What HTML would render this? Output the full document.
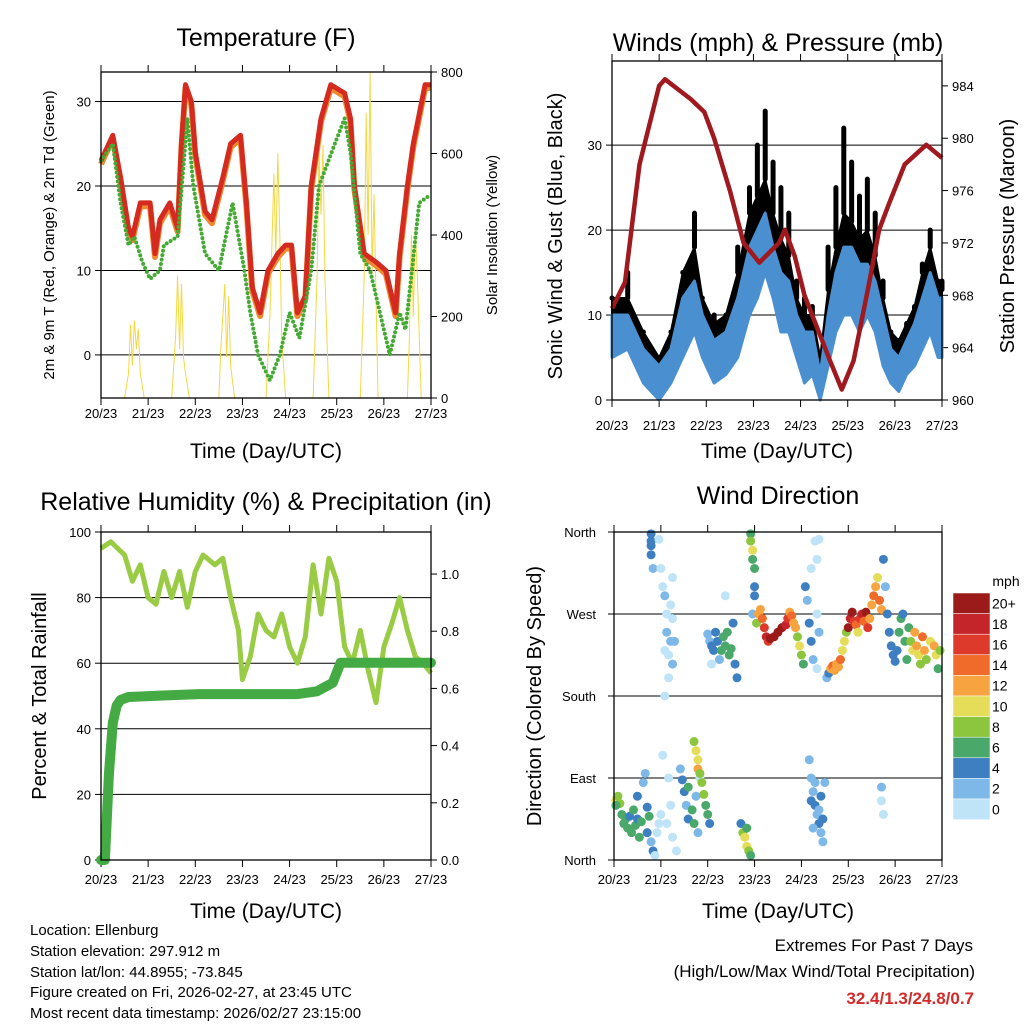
<!DOCTYPE html>
<html><head><meta charset="utf-8"><style>
html,body{margin:0;padding:0;background:#fff}
svg text{font-family:"Liberation Sans",sans-serif;fill:#000}
</style></head><body>
<svg id="c" width="1024" height="1024" viewBox="0 0 1024 1024" xmlns="http://www.w3.org/2000/svg">
<rect width="1024" height="1024" fill="#fff"/>
<text x="266" y="46" font-size="25" text-anchor="middle">Temperature (F)</text>
<text x="778" y="51" font-size="25" text-anchor="middle">Winds (mph) &amp; Pressure (mb)</text>
<text x="266" y="510" font-size="25" text-anchor="middle">Relative Humidity (%) &amp; Precipitation (in)</text>
<text x="778" y="504" font-size="25" text-anchor="middle">Wind Direction</text>
<text transform="translate(54,235) rotate(-90)" font-size="15" text-anchor="middle">2m &amp; 9m T (Red, Orange) &amp; 2m Td (Green)</text>
<text transform="translate(497,235) rotate(-90)" font-size="15" text-anchor="middle">Solar Insolation (Yellow)</text>
<text transform="translate(562,236) rotate(-90)" font-size="20" text-anchor="middle">Sonic Wind &amp; Gust (Blue, Black)</text>
<text transform="translate(1014,236) rotate(-90)" font-size="20" text-anchor="middle">Station Pressure (Maroon)</text>
<text transform="translate(46,696) rotate(-90)" font-size="20" text-anchor="middle">Percent &amp; Total Rainfall</text>
<text transform="translate(541,696) rotate(-90)" font-size="20" text-anchor="middle">Direction (Colored By Speed)</text>
<text x="266" y="458" font-size="21" text-anchor="middle">Time (Day/UTC)</text>
<text x="777" y="458" font-size="21" text-anchor="middle">Time (Day/UTC)</text>
<text x="266" y="918" font-size="21" text-anchor="middle">Time (Day/UTC)</text>
<text x="778" y="918" font-size="21" text-anchor="middle">Time (Day/UTC)</text>
<g font-size="15">
<text x="30" y="935">Location: Ellenburg</text>
<text x="30" y="956">Station elevation: 297.912 m</text>
<text x="30" y="977">Station lat/lon: 44.8955; -73.845</text>
<text x="30" y="997">Figure created on Fri, 2026-02-27, at 23:45 UTC</text>
<text x="30" y="1018">Most recent data timestamp: 2026/02/27 23:15:00</text>
</g>
<g text-anchor="end">
<text x="973" y="951" font-size="17">Extremes For Past 7 Days</text>
<text x="975" y="977" font-size="17">(High/Low/Max Wind/Total Precipitation)</text>
<text x="974" y="1004" font-size="17" font-weight="bold" style="fill:#d42a2a">32.4/1.3/24.8/0.7</text>
</g>
<g id="plots"></g>
</svg>
<script>
const dayLabels=["20/23","21/23","22/23","23/23","24/23","25/23","26/23","27/23"];
const tempT=[0,6,10,14,16,20,25,27.5,30,35,39,41,43,46,48,53,56.5,62,66,71,74,77,81,85,90,94,97,100,104,107,112,117,124,127,129,134,140,145,150,152,156,159,165,168];
const tempV=[23,26,21,15,14,18,18,12,16,18,15,25,32,30,24,17,16,21,25,26,18,8,5,10,12,13,13,5,7,20,28,32,31,28,20,12,11,10,5,12,20,25,32,32];
const dewT=[0,6,10,14,17,21,25,30,32,39,44,47,53,60,67,73,76,80,86,91,96,101,107,111,119,124,127,132,137,147,152,155,162,168];
const dewV=[23,25,18,13,14,11,9,10,13,14,28,20,12,10,18,10,5,0,-3,0,5,2,10,20,25,28,24,12,10,0,5,3,18,19];
const solarT=[0,12,14,15,16,17,18,19,20,21,22,36,38,39,40,41,42,43,45,60,61,63,64,65,66,68,84,86,88,89,90,91,92,94,108,110,111,112,113,114,116,132,134,135,136,137,138,139,141,156,157,158,159,160,161,163,168];
const solarV=[0,0,60,180,80,190,120,170,60,30,0,0,150,300,120,280,100,60,0,0,120,280,100,250,80,0,0,200,550,350,600,400,150,0,0,300,600,450,620,300,0,0,300,700,400,800,300,500,0,0,150,400,200,420,300,0,0];
const presT=[0,6.6,14,24,27,40,47,52,60,67,75,85,88,93,98,111,117,123,131,136,141,149,160,168];
const presV=[967,969,978,984,984.5,983,982,980,976,972,970.5,972,973,971,968,963,960.8,963,969,973,975,978,979.5,978.5];
const windT=[0,8,16,24,30,36,42,46,52,58,64,70,74,78,82,86,90,94,98,102,106,110,114,118,122,126,130,134,138,142,146,150,154,158,162,166,168];
const windLow=[5,6,2,0,2,5,8,5,2,3,5,10,12,15,12,8,8,5,2,3,0,4,8,10,10,8,10,8,4,2,1,3,4,6,8,5,5];
const windHigh=[10,10,6,4,6,12,14,10,7,8,12,18,20,22,18,15,14,10,8,8,3,10,15,18,18,16,16,14,10,6,5,7,9,12,15,12,12];
const gustTyp=[12,12,8,5,8,15,18,12,9,10,15,22,24,26,22,19,17,12,10,10,5,13,18,22,21,19,20,17,12,8,7,9,11,15,18,14,14];
const gustV=[12,15,8,5,8,15,22,12,10,10,18,25,30,34,28,25,22,14,12,11,5,18,25,32,28,24,26,22,14,8,7,8,10,16,20,14,13];
const rhT=[0,5,12,16,20,24,28,32,36,40,44,48,52,58,62,66,70,72,76,80,84,88,92,96,100,104,108,112,116,120,124,128,132,136,140,144,148,152,156,160,164,168];
const rhV=[95,97,93,85,90,80,78,88,80,88,77,88,93,90,92,80,70,55,62,75,70,68,75,65,60,68,90,75,92,85,65,60,70,58,48,65,72,80,70,62,60,57];
const precT=[0,2,4,6,8,10,14,30,50,100,110,118,122,168];
const precV=[0,0,0.3,0.48,0.54,0.56,0.57,0.575,0.58,0.58,0.59,0.62,0.69,0.69];
const dirPts=[[1,66,10],[2,70,9],[3,62,9],[1,60,7],[4,50,6],[5,40,6],[6,45,7],[7,35,6],[8,48,5],[9,30,6],[10,55,6],[11,38,6],[12,45,4],[12,70,4],[13,25,6],[14,42,7],[15,85,3],[16,95,3],[17,58,4],[17,30,4],[18,48,7],[19,20,3],[20,10,4],[21,5,1],[22,30,1],[23,40,1],[24,50,1],
[19,358,4],[19,350,4],[19,345,4],[19,335,4],[20,320,3],
[23,352,1],[24,320,0],[25,300,1],[26,290,2],[27,270,1],[27,250,2],[26,230,0],[28,225,1],[28,200,1],[29,240,2],[29,280,1],[30,310,1],[30,265,0],[31,240,2],[30,215,2],[26,180,0],[25,115,0],[28,90,1],[29,60,0],[27,40,1],[30,25,0],[32,10,0],
[34,100,2],[35,88,4],[36,75,4],[37,60,3],[38,45,4],[38,80,6],[40,55,6],[41,40,6],[42,70,2],[43,30,3],[44,90,1],
[41,130,8],[42,120,10],[43,110,10],[43,100,12],[44,95,9],[45,85,8],[46,72,8],[47,60,7],[48,50,6],[49,40,4],
[48,248,3],[49,240,2],[50,235,4],[51,230,4],[52,250,4],[53,240,5],[54,220,2],[55,230,6],[56,245,6],[57,235,6],[58,250,6],[59,225,6],[60,232,6],[61,260,4],[62,215,4],[63,200,4],[50,215,1],[57,290,1],
[70,358,6],[70,350,8],[71,340,10],[71,330,7],[72,320,6],[72,300,4],[72,290,4],[71,270,3],
[65,40,4],[66,30,9],[67,25,10],[68,15,10],[69,10,8],[70,5,6],[68,35,7],
[73,260,8],[74,270,12],[75,275,12],[76,265,14],[77,255,16],[78,245,18],[79,240,16],[80,243,20],[82,245,20],[84,250,20],[86,255,20],[88,258,18],[89,265,16],[90,272,12],[91,268,14],[92,260,12],[93,255,12],[94,245,8],[95,235,10],[96,225,8],[97,215,7],
[98,300,4],[99,285,3],[100,260,4],[101,240,4],[102,220,2],[104,210,1],[104,270,1],[105,250,2],[103,350,1],[105,352,1],[104,330,1],[101,320,1],
[100,110,2],[101,90,2],[102,75,3],[103,60,4],[104,50,3],[105,40,4],[106,30,2],[107,20,3],[101,65,4],[103,85,2],[106,70,4],[105,55,3],[102,35,2],[108,85,2],[107,45,4],
[109,200,2],[110,205,4],[111,210,12],[112,213,14],[113,208,12],[114,215,13],[115,212,12],[116,220,14],[117,230,10],[118,240,10],[119,250,8],
[120,255,20],[121,265,18],[122,272,20],[123,262,16],[124,258,14],[125,250,10],[126,265,16],[127,270,18],[128,262,14],[129,272,20],[130,255,16],[131,265,12],
[132,280,12],[133,290,14],[134,300,12],[135,310,10],[136,285,14],[137,275,12],
[138,330,4],[139,300,2],[140,270,4],[141,250,4],[142,235,4],[143,225,4],[144,218,4],[145,230,4],[146,250,6],[147,265,6],[148,270,4],[149,240,6],[150,220,6],
[151,255,6],[152,240,8],[153,230,10],[154,250,12],[155,235,12],[156,225,10],[157,215,8],[158,245,14],[159,230,12],[160,220,8],[162,240,10],[164,235,12],[165,225,10],[166,210,6],[167,230,8],
[137,80,2],[137,65,1],[138,50,1]];
const speedLabels=["0","2","4","6","8","10","12","14","16","18","20+"];
const speedColors=["#bfe3f7","#7db8e8","#3e7fc1","#4aa86a","#8cc63f","#e5dd58","#f7a440","#f06a2a","#de3a2c","#c4252b","#9b1b1b"];

const NS="http://www.w3.org/2000/svg";
const root=document.getElementById('plots');
function mk(tag,attrs,parent){const e=document.createElementNS(NS,tag);for(const k in attrs)e.setAttribute(k,attrs[k]);(parent||root).appendChild(e);return e;}
function txt(s,x,y,size,anchor,parent){const e=mk('text',{x:x,y:y,'font-size':size,'text-anchor':anchor||'middle'},parent);e.textContent=s;return e;}
function scale(d0,d1,r0,r1){return v=>r0+(v-d0)/(d1-d0)*(r1-r0);}
function pathD(xs,ys,fx,fy){return xs.map((t,i)=>(i?'L':'M')+fx(t).toFixed(1)+','+fy(ys[i]).toFixed(1)).join('');}
function bandD(xs,hi,lo,fx,fy){
  const up=xs.map((t,i)=>(i?'L':'M')+fx(t).toFixed(1)+','+fy(hi[i]).toFixed(1)).join('');
  let dn='';for(let i=xs.length-1;i>=0;i--)dn+='L'+fx(xs[i]).toFixed(1)+','+fy(lo[i]).toFixed(1);
  return up+dn+'Z';}

function frame(name,x0,x1,y0,y1,labY){
  const g=mk('g',{});
  
  
  const fx=scale(0,168,x0,x1);
  dayLabels.forEach((l,i)=>{const x=fx(i*24);
    mk('line',{x1:x,x2:x,y1:y1,y2:y1+7,stroke:'#000','stroke-width':1},g);
    mk('line',{x1:x,x2:x,y1:y0,y2:y0-7,stroke:'#000','stroke-width':1},g);
    txt(l,x,labY,13,'middle',g);});
  return {g,fx};
}
function box(g,x0,x1,y0,y1){mk('rect',{x:x0,y:y0,width:x1-x0,height:y1-y0,fill:'none',stroke:'#000','stroke-width':1.3},g);}

// Panel 1
(function(){
  const x0=101,x1=431,y0=72,y1=398;
  const {g,fx}=frame('temperature',x0,x1,y0,y1,418);
  const fy=scale(-5.1,33.5,y1,y0), fs=scale(0,800,y1,y0);
  [0,10,20,30].forEach(v=>{const y=fy(v);mk('line',{x1:x0,x2:x1,y1:y,y2:y,stroke:'#000','stroke-width':1},g);
    mk('line',{x1:x0-6,x2:x0,y1:y,y2:y,stroke:'#000'},g);txt(String(v),x0-10,y+5,13,'end',g);});
  [0,200,400,600,800].forEach(v=>{const y=fs(v);mk('line',{x1:x1,x2:x1+6,y1:y,y2:y,stroke:'#000'},g);txt(String(v),x1+10,y+5,13,'start',g);});
  const s=mk('path',{d:pathD(solarT,solarV,fx,fs),fill:'none',stroke:'#f5d742','stroke-width':1},g);
  
  
  const o=mk('path',{d:pathD(tempT,tempV.map(v=>v-0.4),fx,fy),fill:'none',stroke:'#f08a30','stroke-width':6,'stroke-linejoin':'round'},g);
  
  
  const r=mk('path',{d:pathD(tempT,tempV,fx,fy),fill:'none',stroke:'#d42a20','stroke-width':5,'stroke-linejoin':'round'},g);
  
  
  const d=mk('path',{d:pathD(dewT,dewV,fx,fy),fill:'none',stroke:'#44aa33','stroke-width':4,'stroke-dasharray':'0 4.5','stroke-linecap':'round'},g);
  
  
  box(g,x0,x1,y0,y1);
})();

// Panel 2
(function(){
  const x0=612,x1=942,y0=61,y1=400;
  const {g,fx}=frame('winds',x0,x1,y0,y1,430);
  const fy=scale(0,39.9,y1,y0), fp=scale(960,985.9,y1,y0);
  [0,10,20,30].forEach(v=>{const y=fy(v);if(v>0)mk('line',{x1:x0,x2:x1,y1:y,y2:y,stroke:'#000','stroke-width':1},g);
    mk('line',{x1:x0-6,x2:x0,y1:y,y2:y,stroke:'#000'},g);txt(String(v),x0-10,y+5,13,'end',g);});
  [960,964,968,972,976,980,984].forEach(v=>{const y=fp(v);mk('line',{x1:x1,x2:x1+6,y1:y,y2:y,stroke:'#000'},g);txt(String(v),x1+10,y+5,13,'start',g);});
  const gb=mk('path',{d:bandD(windT,gustTyp,windLow,fx,fy),fill:'#000',stroke:'#000','stroke-width':2,'stroke-linejoin':'round'},g);
  
  
  windT.forEach((t,i)=>{
    const l=mk('line',{x1:fx(t),x2:fx(t),y1:fy(gustTyp[i]),y2:fy(gustV[i]),stroke:'#000','stroke-width':5,'stroke-linecap':'round'},g);
    
    });
  const wb=mk('path',{d:bandD(windT,windHigh,windLow,fx,fy),fill:'#4a90d0',stroke:'#4a90d0','stroke-width':3,'stroke-linejoin':'round'},g);
  
  
  const p=mk('path',{d:pathD(presT,presV,fx,fp),fill:'none',stroke:'#a0191e','stroke-width':4.5,'stroke-linejoin':'round'},g);
  
  
  box(g,x0,x1,y0,y1);
})();

// Panel 3
(function(){
  const x0=101,x1=431,y0=532,y1=860;
  const {g,fx}=frame('humidity',x0,x1,y0,y1,884);
  const fy=scale(0,100,y1,y0), fr=scale(0,1.147,y1,y0);
  [0,20,40,60,80,100].forEach(v=>{const y=fy(v);if(v>0&&v<100)mk('line',{x1:x0,x2:x1,y1:y,y2:y,stroke:'#000','stroke-width':1},g);
    mk('line',{x1:x0-6,x2:x0,y1:y,y2:y,stroke:'#000'},g);txt(String(v),x0-10,y+5,13,'end',g);});
  [0,0.2,0.4,0.6,0.8,1.0].forEach(v=>{const y=fr(v);mk('line',{x1:x1,x2:x1+6,y1:y,y2:y,stroke:'#000'},g);txt(v.toFixed(1),x1+10,y+5,13,'start',g);});
  const h=mk('path',{d:pathD(rhT,rhV,fx,fy),fill:'none',stroke:'#99cc44','stroke-width':5,'stroke-linejoin':'round'},g);
  
  
  const pr=mk('path',{d:pathD(precT,precV,fx,fr),fill:'none',stroke:'#44aa44','stroke-width':10,'stroke-linejoin':'round','stroke-linecap':'round'},g);
  
  
  box(g,x0,x1,y0,y1);
})();

// Panel 4
(function(){
  const x0=614,x1=942,y0=532,y1=860;
  const {g,fx}=frame('direction',x0,x1,y0,y1,884);
  const fy=scale(0,360,y1,y0);
  const names=["North","East","South","West","North"];
  [0,90,180,270,360].forEach((v,i)=>{const y=fy(v);mk('line',{x1:x0-6,x2:x1,y1:y,y2:y,stroke:'#000','stroke-width':1},g);
    txt(names[i],x0-18,y+5,13,'end',g);});
  dirPts.forEach(p=>{const k=Math.min(10,Math.floor(p[2]/2));
    const c=mk('circle',{cx:fx(p[0]),cy:fy(p[1]),r:4.5,fill:speedColors[k]},g);
    
    });
  box(g,x0,x1,y0,y1);
  const lg=mk('g',{});
  
  
  txt('mph',1006,586,14,'middle',lg);
  const top=593,h=20.6;
  for(let i=10;i>=0;i--){const y=top+(10-i)*h;
    mk('rect',{x:953,y:y,width:37,height:h,fill:speedColors[i],stroke:'#fff','stroke-width':0.5},lg);
    txt(speedLabels[i],992,y+h/2+5,14,'start',lg);}
})();
</script>
</body></html>
